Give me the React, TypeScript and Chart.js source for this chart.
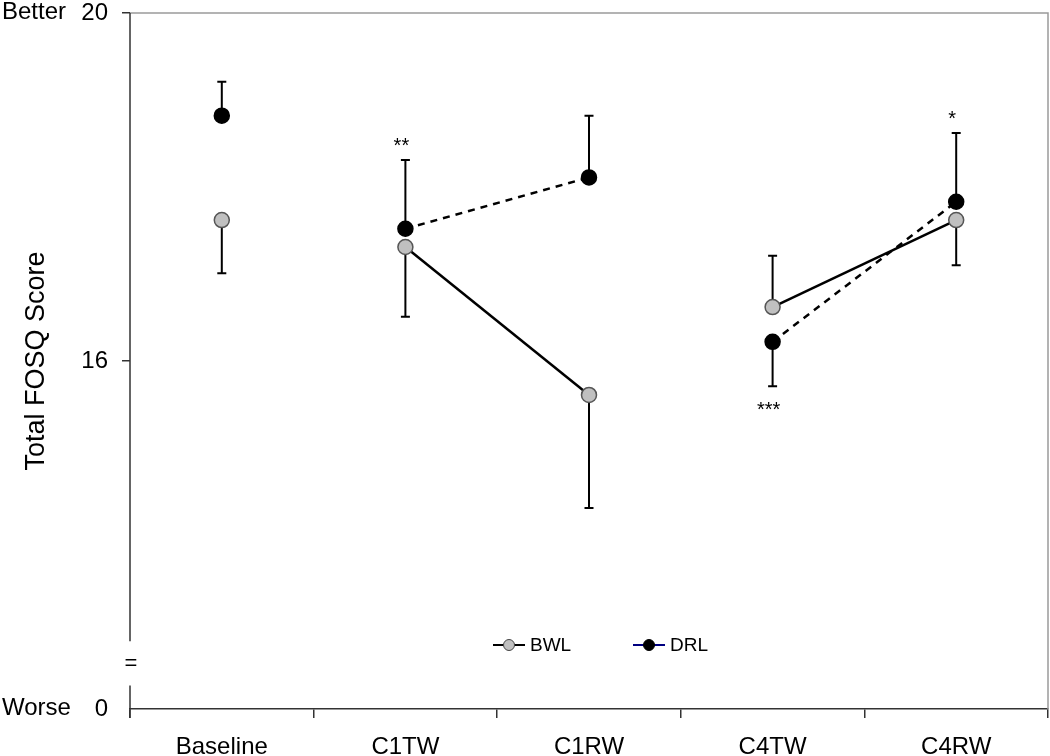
import React, { useEffect, useRef } from 'react';
import { Chart, registerables } from 'chart.js';

Chart.register(...registerables);

// ---- data ----
const categories = ['Baseline', 'C1TW', 'C1RW', 'C4TW', 'C4RW'];
const bwlValues = [17.62, 17.31, 15.61, 16.62, 17.62];
const drlValues = [18.82, 17.52, 18.11, 16.22, 17.83];
const bwlErrorEnds = [17.01, 16.51, 14.31, 17.21, 17.1];
const drlErrorEnds = [19.21, 18.31, 18.82, 15.71, 18.62];
const significanceMarks = ['', '**', '', '***', '*'];
const significanceAt = [null, 18.53, null, 15.49, 18.84];
const yTickValues = [12, 16, 20];
const yTickLabels = ['0', '16', '20'];
const yEndLabels = [
  { value: 20, text: 'Better' },
  { value: 12, text: 'Worse' },
];
const axisBreakFrom = 12.78;
const axisBreakTo = 12.27;
const connectedFrom = [1, 3]; // segment start indices that are drawn

const FONT = 'Arial, "Liberation Sans", sans-serif';

const errorBarPlugin = {
  id: 'errorBars',
  beforeDatasetsDraw(chart: any) {
    const { ctx } = chart;
    const xs = chart.scales.x;
    const ys = chart.scales.y;
    const sets: [number[], number[]][] = [
      [bwlValues, bwlErrorEnds],
      [drlValues, drlErrorEnds],
    ];
    ctx.save();
    ctx.strokeStyle = '#000';
    ctx.lineWidth = 2;
    sets.forEach(([vals, ends]) => {
      vals.forEach((v, i) => {
        const px = xs.getPixelForValue(i);
        const p0 = ys.getPixelForValue(v);
        const p1 = ys.getPixelForValue(ends[i]);
        ctx.beginPath();
        ctx.moveTo(px, p0);
        ctx.lineTo(px, p1);
        ctx.moveTo(px - 4.5, p1);
        ctx.lineTo(px + 4.5, p1);
        ctx.stroke();
      });
    });
    ctx.restore();
  },
};

const decorPlugin = {
  id: 'decor',
  afterDraw(chart: any) {
    const { ctx, chartArea } = chart;
    const xs = chart.scales.x;
    const ys = chart.scales.y;
    const { left, right, top, bottom } = chartArea;
    ctx.save();
    // frame (top + right)
    ctx.strokeStyle = '#9a9a9a';
    ctx.lineWidth = 1.5;
    ctx.beginPath();
    ctx.moveTo(left, top);
    ctx.lineTo(right, top);
    ctx.lineTo(right, bottom);
    ctx.stroke();
    // y axis with break
    const yb1 = ys.getPixelForValue(axisBreakFrom);
    const yb2 = ys.getPixelForValue(axisBreakTo);
    ctx.strokeStyle = '#333';
    ctx.lineWidth = 1.5;
    ctx.beginPath();
    ctx.moveTo(left, top);
    ctx.lineTo(left, yb1);
    ctx.moveTo(left, yb2);
    ctx.lineTo(left, bottom + 9);
    ctx.stroke();
    ctx.fillStyle = '#000';
    ctx.font = `22px ${FONT}`;
    ctx.textAlign = 'center';
    ctx.textBaseline = 'middle';
    ctx.fillText('=', left + 1, (yb1 + yb2) / 2 + 1);
    // Better / Worse
    ctx.font = `24px ${FONT}`;
    ctx.textAlign = 'left';
    yEndLabels.forEach((l) => {
      ctx.fillText(l.text, 2, ys.getPixelForValue(l.value) - 1);
    });
    // significance marks
    ctx.font = `20px ${FONT}`;
    ctx.textAlign = 'center';
    ctx.textBaseline = 'alphabetic';
    significanceMarks.forEach((m, i) => {
      const at = significanceAt[i];
      if (!m || at == null) return;
      ctx.fillText(m, xs.getPixelForValue(i) - 4, ys.getPixelForValue(at) + 11);
    });
    // legend
    const items = [
      { label: chart.data.datasets[0].label, line: '#000', fill: '#c0c0c0', stroke: '#444', x: 493 },
      { label: chart.data.datasets[1].label, line: '#000080', fill: '#000', stroke: '#000', x: 633 },
    ];
    const ly = 645;
    items.forEach((it) => {
      ctx.strokeStyle = it.line;
      ctx.lineWidth = 2;
      ctx.beginPath();
      ctx.moveTo(it.x, ly);
      ctx.lineTo(it.x + 32, ly);
      ctx.stroke();
      ctx.beginPath();
      ctx.arc(it.x + 16, ly, 5.5, 0, Math.PI * 2);
      ctx.fillStyle = it.fill;
      ctx.fill();
      ctx.strokeStyle = it.stroke;
      ctx.lineWidth = 1;
      ctx.stroke();
      ctx.fillStyle = '#000';
      ctx.font = `19px ${FONT}`;
      ctx.textAlign = 'left';
      ctx.textBaseline = 'middle';
      ctx.fillText(it.label, it.x + 37, ly + 1);
    });
    ctx.restore();
  },
};

const zeroPad = (s: any) => {
  s.paddingTop = 0;
  s.paddingBottom = 0;
  s.paddingLeft = 0;
  s.paddingRight = 0;
};

export default function App() {
  const canvasRef = useRef<HTMLCanvasElement | null>(null);

  useEffect(() => {
    if (!canvasRef.current) return;
    const segColor = (color: string) => (c: any) =>
      connectedFrom.includes(c.p0DataIndex) ? color : 'rgba(0,0,0,0)';
    const chart = new Chart(canvasRef.current, {
      type: 'line',
      data: {
        labels: categories,
        datasets: [
          {
            label: 'BWL',
            data: bwlValues,
            borderColor: '#000',
            borderWidth: 2.5,
            pointRadius: 7.5,
            pointBackgroundColor: '#c0c0c0',
            pointBorderColor: '#555',
            pointBorderWidth: 1.5,
            segment: { borderColor: segColor('#000') },
          },
          {
            label: 'DRL',
            data: drlValues,
            borderColor: '#000',
            borderWidth: 2.5,
            borderDash: [7, 6],
            pointRadius: 7.5,
            pointBackgroundColor: '#000',
            pointBorderColor: '#000',
            pointBorderWidth: 1.5,
            segment: { borderColor: segColor('#000') },
          },
        ],
      },
      options: {
        animation: false,
        responsive: false,
        layout: { autoPadding: false, padding: { top: 13, right: 2, left: 0, bottom: 0 } },
        plugins: { legend: { display: false }, tooltip: { enabled: false } },
        scales: {
          x: {
            type: 'category',
            offset: true,
            grid: {
              offset: true,
              drawOnChartArea: false,
              drawTicks: true,
              tickLength: 9,
              color: '#333',
              lineWidth: 1.5,
            },
            border: { display: true, color: '#333', width: 1.5 },
            ticks: {
              color: '#000',
              font: { family: FONT, size: 24, lineHeight: 1 },
              padding: 17,
              maxRotation: 0,
            },
            afterFit: (s: any) => {
              s.height = 47;
              zeroPad(s);
            },
          },
          y: {
            type: 'linear',
            min: 12,
            max: 20,
            afterBuildTicks: (s: any) => {
              s.ticks = yTickValues.map((v) => ({ value: v }));
            },
            grid: {
              drawOnChartArea: false,
              drawTicks: true,
              tickLength: 8,
              color: (c: any) => (c.tick && c.tick.value === 12 ? 'rgba(0,0,0,0)' : '#333'),
              lineWidth: 1.5,
            },
            border: { display: false },
            ticks: {
              color: '#000',
              font: { family: FONT, size: 24, lineHeight: 1 },
              padding: 14,
              callback: (v: any) => {
                const i = yTickValues.indexOf(Number(v));
                return i >= 0 ? yTickLabels[i] : '';
              },
            },
            title: {
              display: true,
              text: 'Total FOSQ Score',
              color: '#000',
              font: { family: FONT, size: 27, lineHeight: 1.2 },
              padding: { top: 20, bottom: 0 },
            },
            afterFit: (s: any) => {
              s.width = 130;
              zeroPad(s);
            },
          },
        },
      },
      plugins: [errorBarPlugin, decorPlugin],
    });
    return () => chart.destroy();
  }, []);

  return (
    <div style={{ position: 'fixed', left: 0, top: 0, width: 1050, height: 756, background: '#fff' }}>
      <canvas ref={canvasRef} width={1050} height={756} style={{ width: 1050, height: 756, display: 'block' }} />
    </div>
  );
}
